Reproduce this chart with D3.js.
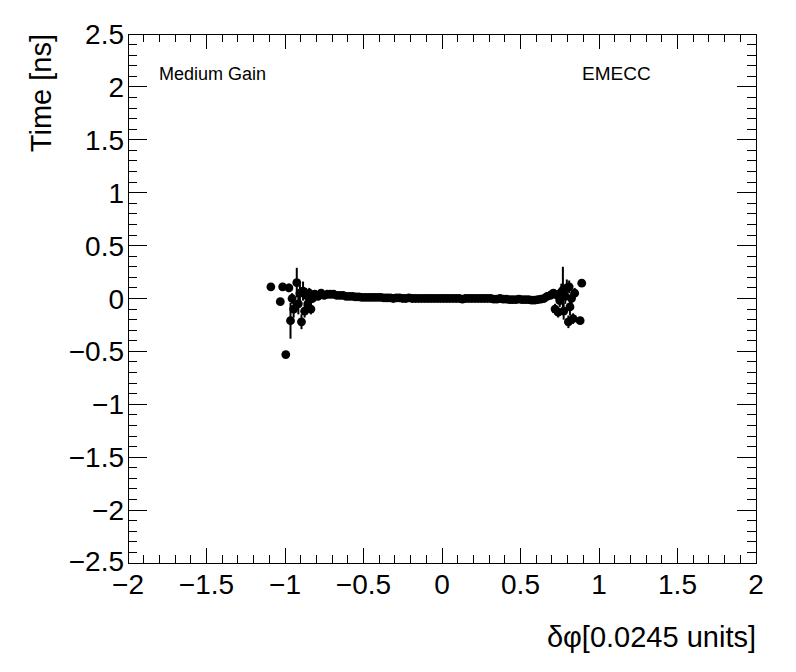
<!DOCTYPE html>
<html><head><meta charset="utf-8">
<script src="https://cdn.jsdelivr.net/npm/d3@7"></script>
<style>body{margin:0;background:#fff}svg{display:block}text{font-family:"Liberation Sans",Arial,sans-serif}</style>
</head><body><div id="c"></div>
<script>
const W=796,H=672;
const xDomain=[-2,2], yDomain=[-2.5,2.5];
const xTickLabels=["−2","−1.5","−1","−0.5","0","0.5","1","1.5","2"];
const yTickLabels=["−2.5","−2","−1.5","−1","−0.5","0","0.5","1","1.5","2","2.5"];
// data: dphi, time, error
const dphi=[-1.09,-1.03,-1.015,-0.995,-0.975,-0.965,-0.955,-0.945,-0.925,-0.915,-0.905,-0.895,-0.885,-0.875,-0.865,-0.855,-0.845,-0.835,-0.825,-0.81,-0.79,-0.77,
-0.75,-0.73,-0.71,-0.69,-0.67,-0.65,-0.63,-0.61,-0.59,-0.57,-0.55,-0.53,-0.51,-0.49,-0.47,-0.45,-0.43,-0.41,-0.39,-0.37,-0.35,-0.33,-0.31,-0.29,-0.27,-0.25,-0.23,-0.21,-0.19,-0.17,-0.15,-0.13,-0.11,-0.09,-0.07,-0.05,-0.03,-0.01,
0.01,0.03,0.05,0.07,0.09,0.11,0.13,0.15,0.17,0.19,0.21,0.23,0.25,0.27,0.29,0.31,0.33,0.35,0.37,0.39,0.41,0.43,0.45,0.47,0.49,0.51,0.53,0.55,0.57,0.59,0.61,0.63,0.65,
0.67,0.69,0.70,0.71,0.72,0.735,0.74,0.75,0.76,0.77,0.775,0.785,0.795,0.805,0.81,0.815,0.825,0.835,0.845,0.88,0.89];
const timeNs=[0.11,-0.03,0.11,-0.53,0.10,-0.21,0.0,-0.1,0.15,-0.05,0.05,-0.22,0.07,-0.12,0.03,-0.05,0.05,-0.1,0.0,0.04,0.02,0.05,
0.03,0.04,0.04,0.04,0.03,0.03,0.03,0.02,0.02,0.02,0.015,0.015,0.01,0.01,0.01,0.01,0.01,0.01,0.01,0.005,0.005,0.005,0.0,0.005,0.005,0.0,0.0,0.005,0.0,0.0,0.0,0.0,0.0,0.0,0.0,0.0,0.0,0.0,
0.0,0.0,0.0,0.0,0.0,0.0,-0.005,0.0,0.0,0.0,0.0,0.0,0.0,0.0,0.0,0.0,-0.005,-0.005,0.0,-0.005,-0.005,-0.01,-0.01,-0.01,-0.005,-0.01,-0.01,-0.01,-0.015,-0.015,-0.01,-0.005,0.0,
0.02,0.03,0.04,0.05,-0.10,0.03,-0.13,-0.02,0.06,0.08,-0.12,0.02,0.10,-0.22,0.11,-0.08,0.0,-0.19,0.05,-0.21,0.145];
const timeErr=[0.02,0.03,0.02,0.03,0.04,0.17,0.05,0.08,0.14,0.1,0.08,0.07,0.09,0.06,0.07,0.05,0.05,0.05,0.04,0.03,0.03,0.02,
0.02,0.02,0.02,0.02,0.02,0.02,0.02,0.02,0.02,0.02,0.02,0.02,0.02,0.02,0.02,0.02,0.02,0.02,0.02,0.02,0.02,0.02,0.02,0.02,0.02,0.02,0.02,0.02,0.02,0.02,0.02,0.02,0.02,0.02,0.02,0.02,0.02,0.02,
0.02,0.02,0.02,0.02,0.02,0.02,0.02,0.02,0.02,0.02,0.02,0.02,0.02,0.02,0.02,0.02,0.02,0.02,0.02,0.02,0.02,0.02,0.02,0.02,0.02,0.02,0.02,0.02,0.02,0.02,0.02,0.02,0.02,
0.03,0.03,0.03,0.04,0.05,0.05,0.05,0.06,0.08,0.22,0.08,0.07,0.08,0.06,0.06,0.08,0.06,0.05,0.05,0.02,0.02];
const pL=128,pR=756,pT=34,pB=563;
const svg=d3.select("#c").append("svg").attr("width",W).attr("height",H);
const x=d3.scaleLinear().domain(xDomain).range([pL,pR]);
const y=d3.scaleLinear().domain(yDomain).range([pB,pT]);
const xMaj=d3.range(9).map(i=>-2+i*0.5), xMin=d3.range(41).map(i=>-2+i*0.1);
const yMaj=d3.range(11).map(i=>-2.5+i*0.5), yMin=d3.range(51).map(i=>-2.5+i*0.1);
const g=svg.append("g").attr("stroke","#000").attr("stroke-width",1).attr("shape-rendering","crispEdges");
xMin.forEach(v=>{const len=xMaj.some(m=>Math.abs(m-v)<1e-6)?15:8;
 g.append("line").attr("x1",x(v)).attr("x2",x(v)).attr("y1",pB).attr("y2",pB-len);
 g.append("line").attr("x1",x(v)).attr("x2",x(v)).attr("y1",pT).attr("y2",pT+len);});
yMin.forEach(v=>{const len=yMaj.some(m=>Math.abs(m-v)<1e-6)?19:9;
 g.append("line").attr("y1",y(v)).attr("y2",y(v)).attr("x1",pL).attr("x2",pL+len);
 g.append("line").attr("y1",y(v)).attr("y2",y(v)).attr("x1",pR).attr("x2",pR-len);});
g.append("rect").attr("x",pL).attr("y",pT).attr("width",pR-pL).attr("height",pB-pT).attr("fill","none");
xMaj.forEach((v,i)=>svg.append("text").attr("x",x(v)).attr("y",594).attr("text-anchor","middle").attr("font-size",28).text(xTickLabels[i]));
yMaj.forEach((v,i)=>svg.append("text").attr("x",124).attr("y",y(v)+(i===0?8:10)).attr("text-anchor","end").attr("font-size",28).text(yTickLabels[i]));
svg.append("text").attr("x",756).attr("y",647).attr("text-anchor","end").attr("font-size",29).text("δφ[0.0245 units]");
svg.append("text").attr("transform","translate(51,34) rotate(-90)").attr("text-anchor","end").attr("font-size",29).text("Time [ns]");
svg.append("text").attr("x",159).attr("y",80).attr("font-size",18).text("Medium Gain");
svg.append("text").attr("x",582).attr("y",80).attr("font-size",19).text("EMECC");
const data=dphi.map((v,i)=>({x:v,y:timeNs[i],e:timeErr[i]}));
const pts=svg.append("g");
pts.selectAll("line").data(data).join("line").attr("x1",p=>x(p.x)).attr("x2",p=>x(p.x))
 .attr("y1",p=>y(p.y-p.e)).attr("y2",p=>y(p.y+p.e)).attr("stroke","#000").attr("stroke-width",2);
pts.selectAll("circle").data(data).join("circle").attr("cx",p=>x(p.x)).attr("cy",p=>y(p.y)).attr("r",4.4).attr("fill","#000");
</script></body></html>
